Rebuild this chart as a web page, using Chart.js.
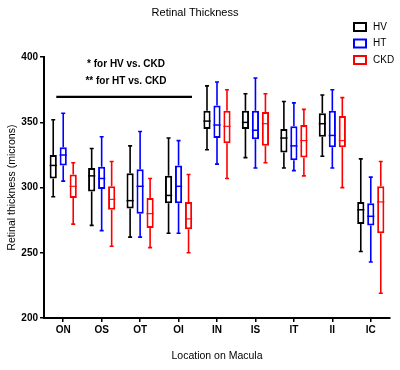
<!DOCTYPE html>
<html>
<head>
<meta charset="utf-8">
<script src="https://cdn.jsdelivr.net/npm/chart.js@4/dist/chart.umd.min.js"></script>
<style>
  html, body { margin: 0; padding: 0; background: #fff; }
  #wrap { width: 400px; height: 370px; position: relative; }
</style>
</head>
<body>
<div id="wrap"><canvas id="chart"></canvas></div>
<script>
// Locations on the macula
const categories = ['ON', 'OS', 'OT', 'OI', 'IN', 'IS', 'IT', 'II', 'IC'];
const yTicks = [200, 250, 300, 350, 400];

// HV (healthy volunteers) five-number summaries
const hvMin = [293, 271, 262, 265, 329, 323, 315, 324, 251];
const hvQ1  = [307, 297, 284, 288, 345, 345, 327, 339, 272];
const hvMed = [317, 309, 290, 294, 351, 350, 338, 349, 283];
const hvQ3  = [325, 315, 311, 309, 359, 359, 345, 357, 289];
const hvMax = [352, 330, 332, 338, 378, 372, 366, 371, 322];

// HT
const htMin = [305, 267, 262, 265, 318, 315, 313, 315, 243];
const htQ1  = [317, 299, 280, 288, 338, 337, 321, 331, 271];
const htMed = [325, 307, 301, 301, 348, 344, 332, 340, 278];
const htQ3  = [331, 316, 314, 317, 363, 359, 347, 359, 288];
const htMax = [357, 339, 343, 336, 381, 384, 365, 375, 308];

// CKD
const ckdMin = [272, 255, 254, 250, 307, 319, 309, 300, 219];
const ckdQ1  = [292, 283, 269, 268, 334, 332, 323, 331, 265];
const ckdMed = [301, 291, 280, 276, 347, 349, 336, 336, 289];
const ckdQ3  = [310, 301, 292, 289, 359, 358, 348, 355, 301];
const ckdMax = [319, 320, 307, 310, 375, 372, 360, 369, 320];

const FONT = '"Liberation Sans", Arial, sans-serif';

function boxSet(label, color, mins, q1s, meds, q3s, maxs) {
  return {
    label: label,
    data: q1s.map((q, i) => [q, q3s[i]]),
    mins: mins, meds: meds, maxs: maxs,
    backgroundColor: '#ffffff',
    borderColor: color,
    borderWidth: 2,
    borderSkipped: false,
    categoryPercentage: 0.78,
    barPercentage: 0.72
  };
}

// whiskers, caps and medians drawn on top of the floating bars
const whiskerPlugin = {
  id: 'whiskers',
  afterDatasetsDraw(chart) {
    const ctx = chart.ctx;
    const y = chart.scales.y;
    chart.data.datasets.forEach((ds, i) => {
      const meta = chart.getDatasetMeta(i);
      meta.data.forEach((bar, j) => {
        const x = bar.x;
        const hw = bar.width / 2;
        const yMin = y.getPixelForValue(ds.mins[j]);
        const yQ1 = y.getPixelForValue(ds.data[j][0]);
        const yQ3 = y.getPixelForValue(ds.data[j][1]);
        const yMed = y.getPixelForValue(ds.meds[j]);
        const yMax = y.getPixelForValue(ds.maxs[j]);
        ctx.save();
        ctx.strokeStyle = ds.borderColor;
        ctx.lineWidth = 1.6;
        ctx.beginPath();
        ctx.moveTo(x, yQ3); ctx.lineTo(x, yMax);
        ctx.moveTo(x, yQ1); ctx.lineTo(x, yMin);
        ctx.moveTo(x - 2, yMax); ctx.lineTo(x + 2, yMax);
        ctx.moveTo(x - 2, yMin); ctx.lineTo(x + 2, yMin);
        ctx.stroke();
        ctx.lineWidth = ds.label === 'CKD' ? 1.1 : 1.5;
        ctx.beginPath();
        ctx.moveTo(x - hw, yMed); ctx.lineTo(x + hw, yMed);
        ctx.stroke();
        ctx.restore();
      });
    });
  }
};

// legend, significance note and bracket line
const notesPlugin = {
  id: 'notes',
  afterDraw(chart) {
    const ctx = chart.ctx;
    const xs = chart.scales.x;
    const y = chart.scales.y;
    ctx.save();
    // legend
    const items = chart.data.datasets;
    items.forEach((ds, i) => {
      const ly = 27 + i * 16.5;
      ctx.strokeStyle = ds.borderColor;
      ctx.lineWidth = 2;
      ctx.strokeRect(354, ly - 4, 12, 8);
      ctx.fillStyle = '#000';
      ctx.font = '10px ' + FONT;
      ctx.textBaseline = 'middle';
      ctx.textAlign = 'left';
      ctx.fillText(ds.label, 373, ly);
    });
    // note
    ctx.font = 'bold 10px ' + FONT;
    ctx.textAlign = 'center';
    ctx.fillText('* for HV vs. CKD', 126, 64);
    ctx.fillText('** for HT vs. CKD', 126, 81);
    // bracket line
    const step = xs.getPixelForValue(1) - xs.getPixelForValue(0);
    const lx0 = xs.getPixelForValue(0) - step * 0.18;
    const lx1 = xs.getPixelForValue(3) + step * 0.35;
    const ly = y.getPixelForValue(369.5);
    ctx.strokeStyle = '#000';
    ctx.lineWidth = 2.2;
    ctx.beginPath();
    ctx.moveTo(lx0, ly); ctx.lineTo(lx1, ly);
    ctx.stroke();
    ctx.restore();
  }
};

new Chart(document.getElementById('chart'), {
  type: 'bar',
  data: {
    labels: categories,
    datasets: [
      boxSet('HV', '#000000', hvMin, hvQ1, hvMed, hvQ3, hvMax),
      boxSet('HT', '#0000ff', htMin, htQ1, htMed, htQ3, htMax),
      boxSet('CKD', '#ff0000', ckdMin, ckdQ1, ckdMed, ckdQ3, ckdMax)
    ]
  },
  options: {
    responsive: true,
    maintainAspectRatio: false,
    animation: false,
    layout: { padding: { left: 0, right: 10, top: 0, bottom: 0 } },
    plugins: {
      legend: { display: false },
      tooltip: { enabled: false },
      title: {
        display: true,
        text: 'Retinal Thickness',
        color: '#000',
        font: { family: FONT, size: 11, weight: 'normal' },
        padding: { top: 6, bottom: 38 }
      }
    },
    scales: {
      x: {
        grid: { display: true, drawOnChartArea: false, offset: false, color: '#000', lineWidth: 1.5, tickLength: 4 },
        border: { display: true, color: '#000', width: 2 },
        ticks: { color: '#000', font: { family: FONT, size: 10, weight: 'bold' }, padding: 2, maxRotation: 0 },
        title: {
          display: true,
          text: 'Location on Macula',
          color: '#000',
          font: { family: FONT, size: 10.5, weight: 'normal' },
          padding: { top: 16, bottom: 8 }
        },
        afterFit(s) { s.height = 52; }
      },
      y: {
        min: 200,
        max: 400,
        afterBuildTicks(s) { s.ticks = yTicks.map(v => ({ value: v })); },
        grid: { display: true, drawOnChartArea: false, color: '#000', lineWidth: 1.5, tickLength: 4 },
        border: { display: true, color: '#000', width: 2 },
        ticks: { color: '#000', font: { family: FONT, size: 10, weight: 'bold' }, padding: 2 },
        title: {
          display: true,
          text: 'Retinal thickness (microns)',
          color: '#000',
          font: { family: FONT, size: 10.5, weight: 'normal' },
          padding: { top: 6, bottom: 2 }
        },
        afterFit(s) { s.width = 44; }
      }
    }
  },
  plugins: [whiskerPlugin, notesPlugin]
});
</script>
</body>
</html>
